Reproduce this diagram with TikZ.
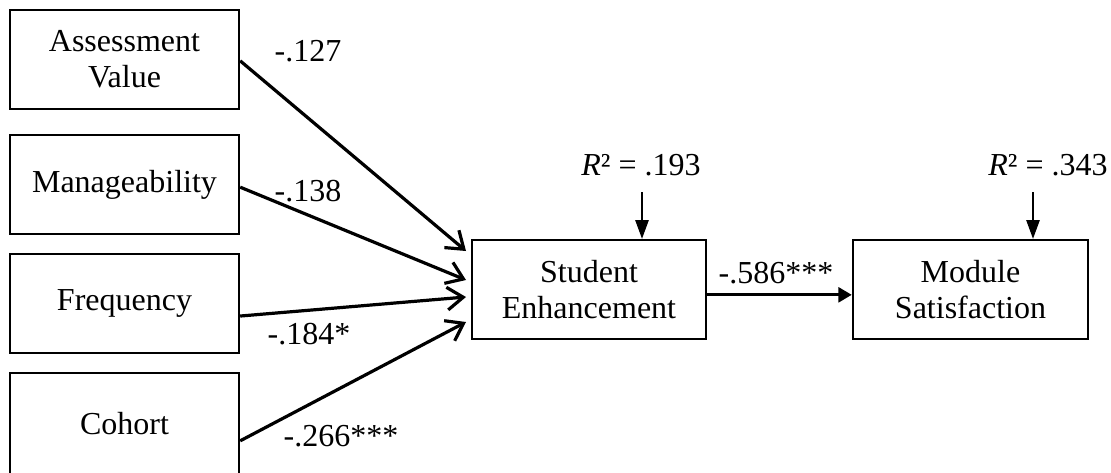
\documentclass[tikz,border=0pt]{standalone}
\usepackage{fontspec}
\setmainfont{Liberation Serif}
\usetikzlibrary{arrows.meta}
\tikzset{every picture/.style={line width=0.75pt}}

\begin{document}
\begin{tikzpicture}[x=0.75pt,y=0.75pt,yscale=-1,xscale=1,
  font=\fontsize{24}{27}\selectfont,
  varbox/.style={draw,line width=1.8pt,align=center,minimum width=171.75pt,minimum height=74.25pt,inner sep=0pt},
  pathline/.style={line width=2.4pt,-{Straight Barb[length=12pt,width=17pt]}},
  mainline/.style={line width=2.4pt,-{Triangle[length=10pt,width=11pt]}},
  rline/.style={line width=1pt,-{Triangle[length=14pt,width=10pt]}},
  coef/.style={inner sep=0pt}]
	\useasboundingbox (0,0) rectangle (1111,472);
	\clip (0,0) rectangle (1111,472);

	% Predictor boxes
	\node [varbox] (av) at (124.5,59.5) {Assessment\\Value};
	\node [varbox] (mg) at (124.5,184.5) {Manageability};
	\node [varbox] (fq) at (124.5,303.5) {Frequency};
	\node [varbox,minimum height=75.75pt] (ch) at (124.5,423.5) {Cohort};
	% Mediator and outcome
	\node [varbox,minimum width=175.5pt] (se) at (589,289.5) {Student\\Enhancement};
	\node [varbox,minimum width=176.25pt] (ms) at (970.5,289.5) {Module\\Satisfaction};

	% Arrow ends
	\coordinate (t1) at (466,251);
	\coordinate (t2) at (466,280);
	\coordinate (t3) at (466,297);
	\coordinate (t4) at (466,322);
	\coordinate (a1) at (642,192);
	\coordinate (a2) at (1033,192);

	% Paths
	\draw [pathline] ([yshift=1pt]av.east) -- (t1);
	\draw [pathline] ([yshift=2pt]mg.east) -- (t2);
	\draw [pathline] ([yshift=9.4pt]fq.east) -- (t3);
	\draw [pathline] ([yshift=13pt]ch.east) -- (t4);
	\draw [mainline] ([yshift=4pt]se.east) -- ([yshift=4pt]ms.west);
	\draw [rline] (a1) -- (a1 |- se.north);
	\draw [rline] (a2) -- (a2 |- ms.north);

	% Coefficients
	\node [coef] (c1) at (308,51) {-.127};
	\node [coef] (c2) at (308,191) {-.138};
	\node [coef] (c3) at (309,334) {-.184*};
	\node [coef] (c4) at (341,436) {-.266***};
	\node [coef] (c5) at (776,273) {-.586***};
	\node [coef] (r1) at (641,165) {\textit{R}² = .193};
	\node [coef] (r2) at (1048,165) {\textit{R}² = .343};

\end{tikzpicture}
\end{document}
